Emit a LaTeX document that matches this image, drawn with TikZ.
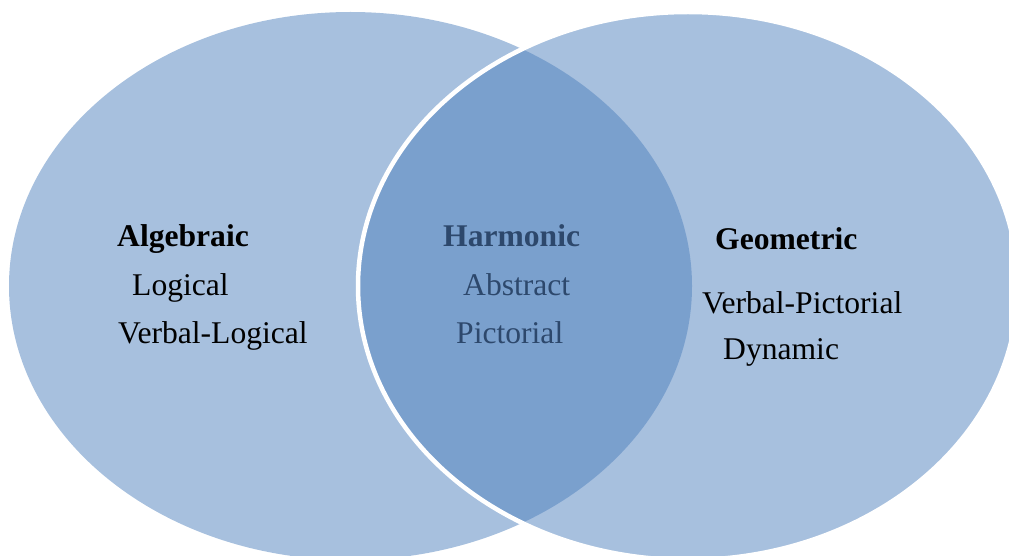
\documentclass[tikz,border=0pt]{standalone}
\usepackage{fontspec}
\setmainfont{Liberation Serif}
\definecolor{venn}{HTML}{4F81BD}
\definecolor{harm}{RGB}{45,72,108}
\begin{document}
\begin{tikzpicture}[x=1pt,y=-1pt,
  lbl/.style={anchor=base west,inner sep=0pt,font=\fontsize{31.6}{37}\selectfont},
  hd/.style={lbl,font=\fontsize{31.6}{37}\selectfont\bfseries},
  circ/.style={fill=venn,fill opacity=0.5}]
\useasboundingbox (0,0) rectangle (1009,556);
\fill[circ] (350.5,286) ellipse [x radius=341.5, y radius=274];
\path[circ,draw=white,draw opacity=1,line width=4.5pt] (688,286) ellipse [x radius=330, y radius=274];
\node[hd] (alg) at (117,247) {Algebraic};
\node[lbl] (log) at (132,295) {Logical};
\node[lbl] (vl) at (118,343) {Verbal-Logical};
\node[hd,text=harm] (harm) at (443,247) {Harmonic};
\node[lbl,text=harm] (abs) at (463,295) {Abstract};
\node[lbl,text=harm] (pic) at (456,343) {Pictorial};
\node[hd] (geo) at (715,249) {Geometric};
\node[lbl] (vp) at (702,313) {Verbal-Pictorial};
\node[lbl] (dyn) at (723,359) {Dynamic};
\end{tikzpicture}
\end{document}
